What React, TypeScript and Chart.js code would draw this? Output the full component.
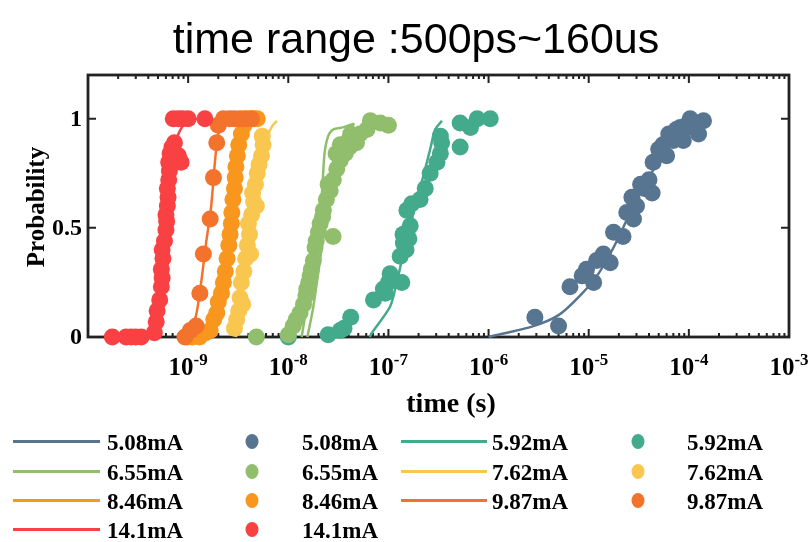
import React, { useEffect, useRef } from "react";
import { Chart, registerables } from "chart.js";

Chart.register(...registerables);

// ---------------- data ----------------
const titleText = "time range :500ps~160us";
const xTitle = "time (s)";
const yTitle = "Probability";
const xTickExponents = [-9, -8, -7, -6, -5, -4, -3];
const yTicks = [0, 0.5, 1];
const xMin = 1e-10;
const xMax = 1e-3;
const yMin = 0;
const yMax = 1.2;

const currents = ["5.08mA", "5.92mA", "6.55mA", "7.62mA", "8.46mA", "9.87mA", "14.1mA"];
const colors = ["#577590", "#43AA8B", "#90BE6D", "#F9C74F", "#F8961E", "#F3722C", "#F94144"];

// 5.08 mA
const fitT508 = [1.0e-6, 2.8e-6, 5.0e-6, 8.2e-6, 1.21e-5, 1.77e-5, 2.6e-5, 3.8e-5, 5.2e-5, 7.0e-5, 1.03e-4, 1.64e-4];
const fitP508 = [0, 0.05, 0.1, 0.19, 0.28, 0.41, 0.57, 0.72, 0.81, 0.9, 0.965, 0.99];
const measT508 = [2.9e-6, 5.0e-6, 6.5e-6, 8.6e-6, 9.5e-6, 1.12e-5, 1.2e-5, 1.4e-5, 1.64e-5, 1.77e-5, 2.2e-5, 2.4e-5, 2.7e-5, 2.8e-5, 3.0e-5, 3.3e-5, 3.6e-5, 4.0e-5, 4.3e-5, 4.4e-5, 5.0e-5, 5.5e-5, 6.0e-5, 6.3e-5, 7.0e-5, 7.5e-5, 8.2e-5, 8.8e-5, 9.5e-5, 1.03e-4, 1.1e-4, 1.2e-4, 1.25e-4, 1.4e-4];
const measP508 = [0.09, 0.05, 0.23, 0.28, 0.31, 0.25, 0.35, 0.38, 0.34, 0.48, 0.46, 0.57, 0.64, 0.54, 0.6, 0.7, 0.68, 0.72, 0.66, 0.8, 0.86, 0.88, 0.83, 0.93, 0.9, 0.95, 0.96, 0.9, 0.97, 1.0, 0.96, 0.98, 0.93, 0.99];

// 5.92 mA
const fitT592 = [6.5e-8, 6.8e-8, 1.04e-7, 1.21e-7, 1.36e-7, 1.59e-7, 1.85e-7, 2.24e-7, 2.61e-7, 2.93e-7, 3.42e-7];
const fitP592 = [0, 0.017, 0.14, 0.25, 0.35, 0.48, 0.6, 0.74, 0.86, 0.95, 0.99];
const measT592 = [1.0e-8, 2.5e-8, 3.3e-8, 3.6e-8, 4.2e-8, 7.1e-8, 8.9e-8, 9.3e-8, 1.04e-7, 1.0e-7, 1.36e-7, 1.31e-7, 1.41e-7, 1.5e-7, 1.4e-7, 1.53e-7, 1.65e-7, 1.6e-7, 1.53e-7, 1.71e-7, 2.07e-7, 2.33e-7, 2.61e-7, 3.05e-7, 3.3e-7, 3.4e-7, 3.3e-7, 5.2e-7, 5.2e-7, 6.6e-7, 7.7e-7, 1.04e-6];
const measP592 = [0, 0.01, 0.03, 0.04, 0.09, 0.17, 0.22, 0.2, 0.29, 0.25, 0.25, 0.37, 0.43, 0.4, 0.47, 0.48, 0.51, 0.45, 0.58, 0.61, 0.63, 0.68, 0.75, 0.8, 0.84, 0.89, 0.92, 0.87, 0.98, 0.96, 1.0, 1.0];

// 6.55 mA
const fitT655 = [1.36e-8, 1.6e-8, 1.85e-8, 2.08e-8, 2.2e-8, 2.3e-8, 2.5e-8, 2.8e-8, 3.5e-8, 4.5e-8, 3.6e-8, 3.1e-8, 2.7e-8, 2.3e-8, 2.0e-8, 1.75e-8, 1.55e-8];
const fitP655 = [0, 0.2, 0.4, 0.55, 0.7, 0.84, 0.92, 0.95, 0.96, 0.975, 0.93, 0.85, 0.72, 0.5, 0.3, 0.12, 0];
const measT655 = [4.8e-9, 1.0e-8, 1.12e-8, 1.2e-8, 1.31e-8, 1.42e-8, 1.5e-8, 1.53e-8, 1.6e-8, 1.65e-8, 1.7e-8, 1.78e-8, 1.85e-8, 1.9e-8, 2.0e-8, 2.08e-8, 2.8e-8, 2.2e-8, 2.24e-8, 2.4e-8, 2.62e-8, 2.5e-8, 2.82e-8, 3.05e-8, 3.3e-8, 3.0e-8, 3.7e-8, 3.3e-8, 4.1e-8, 4.8e-8, 4.2e-8, 5.2e-8, 6.1e-8, 6.6e-8, 8.3e-8, 1.0e-7];
const measP655 = [0, 0.01, 0.05, 0.08, 0.11, 0.15, 0.19, 0.22, 0.25, 0.28, 0.31, 0.35, 0.41, 0.44, 0.48, 0.52, 0.46, 0.55, 0.58, 0.63, 0.67, 0.7, 0.72, 0.77, 0.81, 0.84, 0.84, 0.88, 0.87, 0.89, 0.93, 0.93, 0.95, 0.99, 0.98, 0.97];

// 7.62 mA
const fitT762 = [3.0e-9, 3.5e-9, 4.0e-9, 4.6e-9, 5.3e-9, 6.2e-9, 7.0e-9, 7.7e-9];
const fitP762 = [0, 0.2, 0.42, 0.65, 0.82, 0.92, 0.97, 0.99];
const measT762 = [2.9e-9, 3.05e-9, 3.2e-9, 3.3e-9, 3.4e-9, 3.6e-9, 3.75e-9, 3.9e-9, 4.1e-9, 4.0e-9, 4.3e-9, 4.5e-9, 4.4e-9, 4.7e-9, 4.9e-9, 5.1e-9, 5.4e-9, 5.6e-9, 5.5e-9, 3.5e-9, 4.2e-9, 4.8e-9];
const measP762 = [0.04, 0.08, 0.12, 0.18, 0.25, 0.3, 0.36, 0.42, 0.47, 0.52, 0.56, 0.62, 0.66, 0.7, 0.75, 0.79, 0.83, 0.88, 0.92, 0.15, 0.38, 0.6];

// 8.46 mA
const fitT846 = [1.3e-9, 1.8e-9, 2.2e-9, 2.6e-9, 2.9e-9, 3.2e-9, 3.7e-9, 4.5e-9];
const fitP846 = [0, 0.1, 0.25, 0.45, 0.65, 0.85, 0.96, 1.0];
const measT846 = [9.8e-10, 1.1e-9, 1.3e-9, 1.5e-9, 1.66e-9, 1.8e-9, 1.93e-9, 2.0e-9, 2.15e-9, 2.25e-9, 2.35e-9, 2.45e-9, 2.55e-9, 2.62e-9, 2.7e-9, 2.73e-9, 2.8e-9, 2.9e-9, 2.95e-9, 3.0e-9, 3.1e-9, 3.2e-9, 3.4e-9, 3.6e-9, 4.0e-9, 4.5e-9, 4.9e-9];
const measP846 = [0, 0, 0, 0.02, 0.03, 0.08, 0.11, 0.16, 0.2, 0.25, 0.3, 0.36, 0.42, 0.47, 0.52, 0.57, 0.63, 0.68, 0.73, 0.78, 0.83, 0.88, 0.93, 0.97, 1, 1, 1];

// 9.87 mA
const fitT987 = [1.0e-9, 1.2e-9, 1.35e-9, 1.5e-9, 1.7e-9, 1.85e-9, 2.0e-9, 2.3e-9, 3.0e-9];
const fitP987 = [0, 0.1, 0.25, 0.42, 0.6, 0.8, 0.93, 0.99, 1.0];
const measT987 = [9.3e-10, 1.05e-9, 1.2e-9, 1.31e-9, 1.42e-9, 1.66e-9, 1.79e-9, 1.93e-9, 2.0e-9, 2.25e-9, 2.6e-9, 2.9e-9, 3.3e-9, 3.7e-9, 4.3e-9];
const measP987 = [0, 0.03, 0.05, 0.2, 0.38, 0.54, 0.73, 0.89, 0.97, 1, 1, 1, 1, 1, 1];

// 14.1 mA
const fitT141 = [2.5e-10, 4.3e-10, 4.85e-10, 5.44e-10, 6.1e-10, 6.85e-10, 8.0e-10, 9.7e-10, 1.25e-9];
const fitP141 = [0, 0, 0.17, 0.4, 0.63, 0.81, 0.93, 0.99, 1.0];
const measT141 = [1.75e-10, 2.4e-10, 2.7e-10, 3.0e-10, 3.4e-10, 4.6e-10, 4.8e-10, 4.9e-10, 5.2e-10, 5.4e-10, 5.5e-10, 5.4e-10, 5.6e-10, 5.5e-10, 5.8e-10, 6.0e-10, 6.1e-10, 6.0e-10, 6.2e-10, 6.3e-10, 6.2e-10, 6.4e-10, 6.5e-10, 6.4e-10, 6.6e-10, 6.9e-10, 7.3e-10, 8.5e-10, 8.0e-10, 7.1e-10, 8.0e-10, 8.8e-10, 1.0e-9, 1.47e-9];
const measP141 = [0, 0, 0, 0, 0, 0.02, 0.07, 0.12, 0.17, 0.23, 0.27, 0.31, 0.36, 0.4, 0.44, 0.49, 0.53, 0.56, 0.6, 0.64, 0.68, 0.72, 0.76, 0.8, 0.84, 0.87, 0.89, 0.8, 0.83, 1, 1, 1, 1, 1];

const fitT = [fitT508, fitT592, fitT655, fitT762, fitT846, fitT987, fitT141];
const fitP = [fitP508, fitP592, fitP655, fitP762, fitP846, fitP987, fitP141];
const measT = [measT508, measT592, measT655, measT762, measT846, measT987, measT141];
const measP = [measP508, measP592, measP655, measP762, measP846, measP987, measP141];

// ---------------- chart ----------------
const SERIF = '"Liberation Serif", "Times New Roman", serif';

function buildDatasets() {
  const ds: any[] = [];
  currents.forEach((c, i) => {
    ds.push({
      label: c,
      kind: "line",
      data: fitT[i].map((t, k) => ({ x: t, y: fitP[i][k] })),
      showLine: true,
      borderColor: colors[i],
      backgroundColor: colors[i],
      borderWidth: 2.5,
      pointRadius: 0,
      tension: 0.25,
      clip: false,
    });
    ds.push({
      label: c,
      kind: "point",
      data: measT[i].map((t, k) => ({ x: t, y: measP[i][k] })),
      showLine: false,
      pointRadius: 8.5,
      pointBorderWidth: 0,
      pointBackgroundColor: colors[i],
      pointBorderColor: colors[i],
      backgroundColor: colors[i],
      borderColor: colors[i],
      clip: false,
    });
  });
  ds.forEach((d, idx) => (d.order = 100 - idx));
  return ds;
}

const decorPlugin = {
  id: "decor",
  beforeDatasetsDraw(chart: any) {
    const { ctx, chartArea: a, scales } = chart;
    const x = scales.x;
    const y = scales.y;
    ctx.save();
    ctx.strokeStyle = "#222";
    ctx.lineWidth = 2;
    for (let n = -10; n <= -3; n++) {
      for (let k = 1; k <= 9; k++) {
        if (n === -3 && k > 1) break;
        const v = k * Math.pow(10, n);
        const px = x.getPixelForValue(v);
        const len = k === 1 ? 8 : 4;
        ctx.beginPath();
        ctx.moveTo(px, a.bottom);
        ctx.lineTo(px, a.bottom - len);
        ctx.moveTo(px, a.top);
        ctx.lineTo(px, a.top + len);
        ctx.stroke();
      }
    }
    yTicks.forEach((v) => {
      const py = y.getPixelForValue(v);
      ctx.beginPath();
      ctx.moveTo(a.left, py);
      ctx.lineTo(a.left + 8, py);
      ctx.moveTo(a.right, py);
      ctx.lineTo(a.right - 8, py);
      ctx.stroke();
    });
    ctx.lineWidth = 2.8;
    ctx.strokeRect(a.left, a.top, a.right - a.left, a.bottom - a.top);
    ctx.restore();
  },
  afterDraw(chart: any) {
    const { ctx, chartArea: a, scales } = chart;
    const x = scales.x;
    const y = scales.y;
    ctx.save();
    ctx.fillStyle = "#000";

    ctx.font = '43px "Liberation Sans", Arial, sans-serif';
    ctx.textAlign = "center";
    ctx.textBaseline = "alphabetic";
    ctx.fillText(titleText, 416, 53);

    ctx.font = `bold 24px ${SERIF}`;
    ctx.textAlign = "right";
    ctx.textBaseline = "middle";
    yTicks.forEach((v) => {
      ctx.fillText(String(v), a.left - 6, y.getPixelForValue(v) + 1);
    });

    ctx.textBaseline = "alphabetic";
    ctx.textAlign = "left";
    xTickExponents.forEach((e) => {
      const px = x.getPixelForValue(Math.pow(10, e));
      ctx.font = `bold 25px ${SERIF}`;
      const w1 = ctx.measureText("10").width;
      ctx.font = `bold 17px ${SERIF}`;
      const s = String(e);
      const w2 = ctx.measureText(s).width;
      const start = px - (w1 + w2) / 2;
      ctx.font = `bold 25px ${SERIF}`;
      ctx.fillText("10", start, 375);
      ctx.font = `bold 17px ${SERIF}`;
      ctx.fillText(s, start + w1, 365);
    });

    ctx.font = `bold 28px ${SERIF}`;
    ctx.textAlign = "center";
    ctx.fillText(xTitle, 451, 412);

    ctx.save();
    ctx.translate(38, 207);
    ctx.rotate(-Math.PI / 2);
    ctx.font = `bold 25px ${SERIF}`;
    ctx.textBaseline = "middle";
    ctx.fillText(yTitle, 0, 0);
    ctx.restore();

    const cols = [
      { x0: 13, x1: 100, tx: 107 },
      { cx: 252, tx: 302 },
      { x0: 401, x1: 487, tx: 492 },
      { cx: 638, tx: 687 },
    ];
    const baselines = [450, 480, 509, 538];
    ctx.font = `bold 23px ${SERIF}`;
    ctx.textAlign = "left";
    ctx.textBaseline = "alphabetic";
    chart.data.datasets.forEach((d: any, idx: number) => {
      const col: any = cols[idx % 4];
      const bl = baselines[Math.floor(idx / 4)];
      const cy = bl - 8.5;
      const color = d.borderColor;
      if (d.kind === "line") {
        ctx.strokeStyle = color;
        ctx.lineWidth = 3;
        ctx.beginPath();
        ctx.moveTo(col.x0, cy);
        ctx.lineTo(col.x1, cy);
        ctx.stroke();
      } else {
        ctx.fillStyle = color;
        ctx.beginPath();
        ctx.ellipse(col.cx, cy, 6.5, 7.5, 0, 0, Math.PI * 2);
        ctx.fill();
      }
      ctx.fillStyle = "#000";
      ctx.fillText(d.label, col.tx, bl);
    });
    ctx.restore();
  },
};

export default function App() {
  const ref = useRef<HTMLCanvasElement | null>(null);
  useEffect(() => {
    if (!ref.current) return;
    const chart = new Chart(ref.current, {
      type: "scatter",
      data: { datasets: buildDatasets() },
      options: {
        animation: false,
        responsive: false,
        devicePixelRatio: 1,
        layout: { padding: { left: 88, right: 22, top: 75, bottom: 205 } },
        scales: {
          x: { type: "logarithmic", min: xMin, max: xMax, display: false },
          y: { type: "linear", min: yMin, max: yMax, display: false },
        },
        plugins: {
          legend: { display: false },
          tooltip: { enabled: false },
          title: { display: false },
        },
      } as any,
      plugins: [decorPlugin],
    });
    return () => chart.destroy();
  }, []);
  return (
    <div style={{ position: "absolute", left: 0, top: 0, width: 811, height: 542, background: "#fff" }}>
      <canvas ref={ref} width={811} height={542} />
    </div>
  );
}
